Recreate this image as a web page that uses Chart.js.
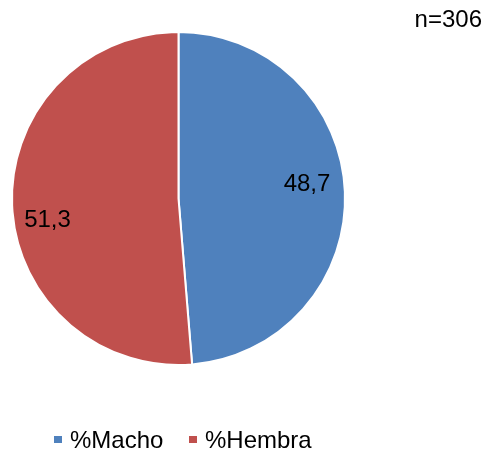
<!DOCTYPE html>
<html>
<head>
<meta charset="utf-8">
<script src="https://cdn.jsdelivr.net/npm/chart.js@4.4.0/dist/chart.umd.min.js"></script>
<style>
  html, body { margin: 0; padding: 0; background: #fff; }
  #wrap { position: relative; width: 486px; height: 453px; }
</style>
</head>
<body>
<div id="wrap"><canvas id="pieChart" width="486" height="453"></canvas></div>
<script>
const labels = ['%Macho', '%Hembra'];
const values = [48.7, 51.3];
const colors = ['#4F81BD', '#C0504D'];
const sampleNote = 'n=306';

const FONT = "'Liberation Sans', Arial, sans-serif";

// value labels, n note and legend drawn on the canvas
const extrasPlugin = {
  id: 'extras',
  afterDraw(chart) {
    const ctx = chart.ctx;
    const meta = chart.getDatasetMeta(0);
    // label offsets from the pie center (Excel-style placement)
    const labelOffset = [[128.5, -15], [-131, 21]];
    ctx.save();
    ctx.fillStyle = '#000';
    ctx.font = '24px ' + FONT;
    ctx.textBaseline = 'middle';
    ctx.textAlign = 'center';
    meta.data.forEach((arc, i) => {
      const x = arc.x + labelOffset[i][0];
      const y = arc.y + labelOffset[i][1];
      ctx.fillText(values[i].toFixed(1).replace('.', ','), x, y + 1);
    });

    ctx.textAlign = 'right';
    ctx.textBaseline = 'alphabetic';
    ctx.fillText(sampleNote, 482, 27);

    // legend
    ctx.textAlign = 'left';
    const legendX = [54, 189];
    labels.forEach((lab, i) => {
      ctx.fillStyle = colors[i];
      ctx.fillRect(legendX[i], 436, 8, 7);
      ctx.fillStyle = '#000';
      ctx.fillText(lab, legendX[i] + 16, 448);
    });
    ctx.restore();
  }
};

new Chart(document.getElementById('pieChart'), {
  type: 'pie',
  data: {
    labels: labels,
    datasets: [{
      data: values,
      backgroundColor: colors,
      borderColor: '#FFFFFF',
      borderWidth: 2
    }]
  },
  options: {
    responsive: false,
    animation: false,
    layout: { padding: { left: 11, top: 31, right: 140, bottom: 87 } },
    plugins: {
      legend: { display: false },
      tooltip: { enabled: false }
    }
  },
  plugins: [extrasPlugin]
});
</script>
</body>
</html>
